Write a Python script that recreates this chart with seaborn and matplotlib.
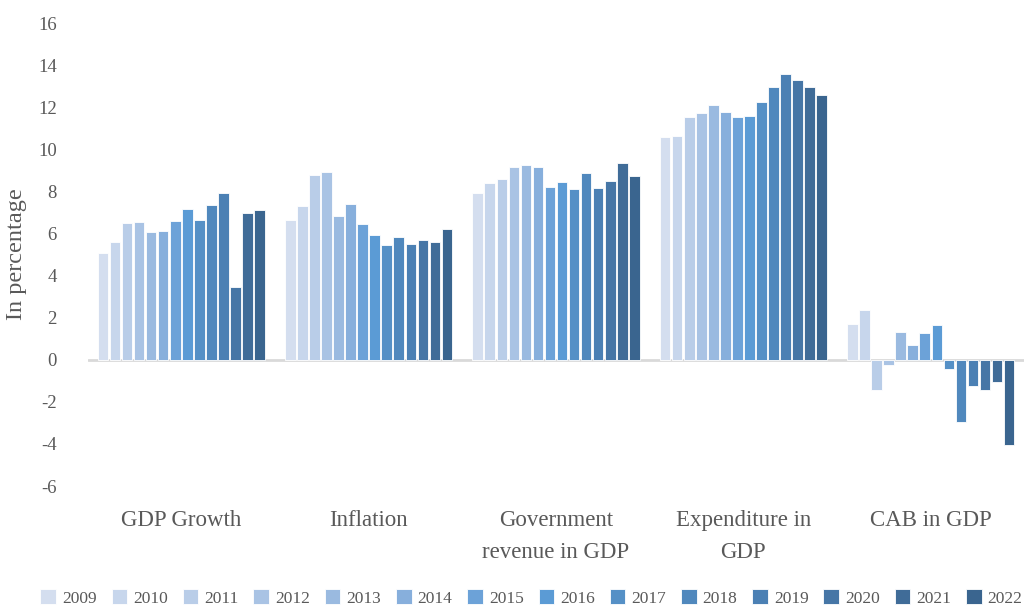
import numpy as np
import pandas as pd
import matplotlib
matplotlib.use('Agg')
import matplotlib.pyplot as plt
import seaborn as sns

# indicators and years
indicators = ["GDP Growth", "Inflation", "Government\nrevenue in GDP",
              "Expenditure in\nGDP", "CAB in GDP"]
years = [str(y) for y in range(2009, 2023)]

# values per indicator, 2009..2022
gdp_growth = [5.07, 5.61, 6.49, 6.56, 6.05, 6.10, 6.59, 7.14, 6.64, 7.35, 7.92, 3.48, 6.97, 7.11]
inflation = [6.66, 7.31, 8.80, 8.90, 6.81, 7.40, 6.43, 5.94, 5.46, 5.83, 5.50, 5.69, 5.59, 6.19]
gov_revenue = [7.91, 8.38, 8.57, 9.14, 9.24, 9.14, 8.21, 8.45, 8.09, 8.89, 8.15, 8.48, 9.37, 8.75]
expenditure = [10.58, 10.62, 11.53, 11.71, 12.09, 11.76, 11.52, 11.60, 12.25, 12.96, 13.56, 13.31, 12.98, 12.60]
cab = [1.71, 2.36, -1.43, -0.25, 1.33, 0.70, 1.25, 1.63, -0.44, -2.96, -1.27, -1.44, -1.08, -4.05]

year_colors = ["#d4deef", "#c7d6ec", "#b9cde8", "#a9c3e4", "#9abae0", "#87afdc", "#6ca2d8",
               "#5b9bd5", "#5590c6", "#5088bd", "#4b80b4", "#4676a6", "#406c98", "#3a658f"]

series = [gdp_growth, inflation, gov_revenue, expenditure, cab]
rows = []
for ind, vals in zip(indicators, series):
    for yr, v in zip(years, vals):
        rows.append({"indicator": ind, "year": yr, "value": v})
df = pd.DataFrame(rows)

sns.set_style("white")
plt.rcParams['font.family'] = ['Liberation Serif', 'DejaVu Serif']
plt.rcParams['axes.unicode_minus'] = False
text_color = "#595959"

fig = plt.figure(figsize=(10.24, 6.07), dpi=100)
ax = fig.add_axes([0.0855, 0.1993, 0.915, 0.7628])

sns.barplot(data=df, x="indicator", y="value", hue="year", hue_order=years,
            order=indicators, palette=year_colors, saturation=1, width=0.9, gap=0.12,
            edgecolor="white", linewidth=0.6, ax=ax)

ax.axhline(0, color="#d9d9d9", lw=2, zorder=0)
ax.set_ylim(-6, 16)
ax.set_yticks(np.arange(-6, 17, 2))
ax.set_xlim(-0.5, 4.5)
sns.despine(ax=ax, left=True, bottom=True)
ax.tick_params(axis="both", length=0, colors=text_color)
ax.tick_params(axis="y", labelsize=13.5, pad=22)
ax.tick_params(axis="x", labelsize=16.5, pad=17)
for lbl in ax.get_xticklabels():
    lbl.set_linespacing(1.7)
ax.set_xlabel("")
ax.set_ylabel("In percentage", fontsize=17.5, color=text_color)
ax.yaxis.set_label_coords(-0.065, 0.5)

handles, labels = ax.get_legend_handles_labels()
ax.get_legend().remove()
fig.legend(handles, labels, loc="lower center", bbox_to_anchor=(0.519, -0.025), ncol=14,
           frameon=False, fontsize=12.5, handlelength=0.9, handleheight=0.9,
           handletextpad=0.35, columnspacing=0.85, labelcolor=text_color)

fig.savefig("out.png", dpi=100)
